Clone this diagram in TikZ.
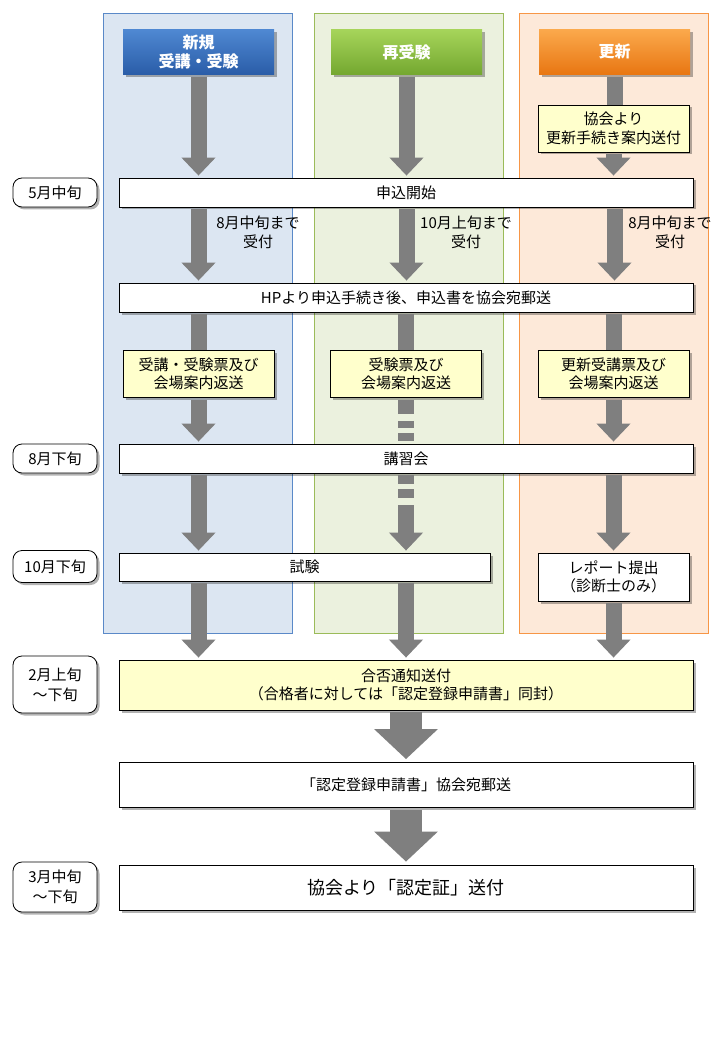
\documentclass[tikz,border=0pt]{standalone}
\usepackage{fontspec}
\setmainfont{Noto Sans CJK JP}
\usetikzlibrary{arrows.meta,shadows}
\definecolor{flowgray}{HTML}{7F7F7F}
\definecolor{bluebg}{HTML}{DCE6F2}
\definecolor{blueline}{HTML}{5A89C8}
\definecolor{greenbg}{HTML}{EBF1DE}
\definecolor{greenline}{HTML}{9BBB59}
\definecolor{orangebg}{HTML}{FDE9D9}
\definecolor{orangeline}{HTML}{F79646}
\definecolor{memoyellow}{HTML}{FFFFCC}
\definecolor{hdrAtop}{HTML}{4F88D2}
\definecolor{hdrAbot}{HTML}{2A5DA8}
\definecolor{hdrBtop}{HTML}{A6D45A}
\definecolor{hdrBbot}{HTML}{74A830}
\definecolor{hdrCtop}{HTML}{FBA94C}
\definecolor{hdrCbot}{HTML}{E87612}

\begin{document}
\begin{tikzpicture}[x=1pt,y=-1pt,
  shade/.style={drop shadow={shadow xshift=2.5pt,shadow yshift=-2.5pt,fill=black,opacity=.3}},
  box/.style={draw,line width=0.8pt,fill=white,shade,inner sep=0pt,align=center,
    minimum width=574pt,minimum height=29pt,font=\fontsize{15}{18.5}\selectfont},
  memo/.style={box,fill=memoyellow,minimum width=151pt,minimum height=47pt},
  when/.style={draw,line width=0.8pt,fill=white,shade,rounded corners=9pt,inner sep=0pt,
    align=center,minimum width=84pt,minimum height=29pt,font=\fontsize{15}{20}\selectfont},
  hdr/.style={shade,inner sep=0pt,align=center,minimum width=151pt,minimum height=45pt,
    text=white,font=\fontsize{16}{19}\selectfont\bfseries},
  note/.style={align=center,font=\fontsize{15}{19}\selectfont},
  flow/.style={draw=flowgray,line width=16pt,shorten <=2pt,shorten >=2pt,
    -{Triangle[width=33pt,length=18pt]}},
  shaft/.style={draw=flowgray,line width=16pt,shorten <=2pt},
  bigflow/.style={draw=flowgray,line width=32pt,shorten <=2pt,shorten >=3pt,
    -{Triangle[width=62pt,length=30pt]}}]
\useasboundingbox (0,0) rectangle (720,1040);
\fill[white] (0,0) rectangle (720,1040);

\filldraw[fill=bluebg,draw=blueline,line width=0.8pt] (103,13) rectangle (292,633);
\filldraw[fill=greenbg,draw=greenline,line width=0.8pt] (314,13) rectangle (503,633);
\filldraw[fill=orangebg,draw=orangeline,line width=0.8pt] (519,13) rectangle (708,633);

\node[hdr,top color=hdrAtop,bottom color=hdrAbot] (hdrA) at (198.5,52) {新規\\受講・受験};
\node[hdr,top color=hdrBtop,bottom color=hdrBbot] (hdrB) at (406.5,52) {再受験};
\node[hdr,top color=hdrCtop,bottom color=hdrCbot] (hdrC) at (614.5,52) {更新};

\node[memo] (notice) at (613.5,128.5) {協会より\\更新手続き案内送付};
\node[box] (start) at (406,192.5) {申込開始};
\node[when] (m5) at (55,192.5) {5月中旬};
\node[box] (apply) at (406,297.5) {HPより申込手続き後、申込書を協会宛郵送};
\node[memo] (tktA) at (198.5,374) {受講・受験票及び\\会場案内返送};
\node[memo] (tktB) at (406,374) {受験票及び\\会場案内返送};
\node[memo] (tktC) at (613.5,374) {更新受講票及び\\会場案内返送};
\node[box] (lecture) at (406,458.5) {講習会};
\node[when] (m8) at (55,458.5) {8月下旬};
\node[box,minimum width=371pt,minimum height=28pt] (exam) at (304.5,567) {試験};
\node[when,minimum height=32pt] (m10) at (55,566.5) {10月下旬};
\node[box,minimum width=151pt,minimum height=48pt] (report) at (613.5,577) {レポート提出\\（診断士のみ）};
\node[memo,minimum width=574pt,minimum height=50pt] (result) at (406,685) {合否通知送付\\（合格者に対しては「認定登録申請書」同封）};
\node[when,minimum height=57pt] (m2) at (55,684.5) {2月上旬\\～下旬};
\node[box,minimum height=45pt] (mail) at (406,785) {「認定登録申請書」協会宛郵送};
\node[box,minimum height=45pt,font=\fontsize{18}{22}\selectfont] (cert) at (406,887.5) {協会より「認定証」送付};
\node[when,minimum height=50pt] (m3) at (55,887) {3月中旬\\～下旬};

\node[note] (untilA) at (258,232) {8月中旬まで\\受付};
\node[note] (untilB) at (466,232) {10月上旬まで\\受付};
\node[note] (untilC) at (670,232) {8月中旬まで\\受付};

\draw[flow] (hdrA.south) -- (hdrA.south |- start.north);
\draw[flow] (hdrB.south) -- (hdrB.south |- start.north);
\draw[shaft] (hdrC.south) -- (hdrC.south |- notice.north);
\draw[flow] (notice.south) -- (notice.south |- start.north);

\draw[flow] (hdrA.south |- start.south) -- (hdrA.south |- apply.north);
\draw[flow] (hdrB.south |- start.south) -- (hdrB.south |- apply.north);
\draw[flow] (hdrC.south |- start.south) -- (hdrC.south |- apply.north);

\draw[shaft] (tktA.north |- apply.south) -- (tktA.north);
\draw[shaft] (tktB.north |- apply.south) -- (tktB.north);
\draw[shaft] (tktC.north |- apply.south) -- (tktC.north);

\draw[flow] (tktA.south) -- (tktA.south |- lecture.north);
\draw[shaft,dash pattern=on 14pt off 7pt on 7pt off 5pt on 8pt off 20pt] (tktB.south) -- (tktB.south |- lecture.north);
\draw[flow] (tktC.south) -- (tktC.south |- lecture.north);

\draw[flow] (tktA.south |- lecture.south) -- (tktA.south |- exam.north);
\draw[flow,dash pattern=on 9pt off 5pt on 9pt off 7pt on 200pt] (tktB.south |- lecture.south) -- (tktB.south |- exam.north);
\draw[flow] (tktC.south |- lecture.south) -- (report.north);

\draw[flow] (tktA.south |- exam.south) -- (tktA.south |- result.north);
\draw[flow] (tktB.south |- exam.south) -- (tktB.south |- result.north);
\draw[flow] (report.south) -- (report.south |- result.north);

\draw[bigflow] (result.south) -- (mail.north);
\draw[bigflow] (mail.south) -- (cert.north);
\end{tikzpicture}
\end{document}
